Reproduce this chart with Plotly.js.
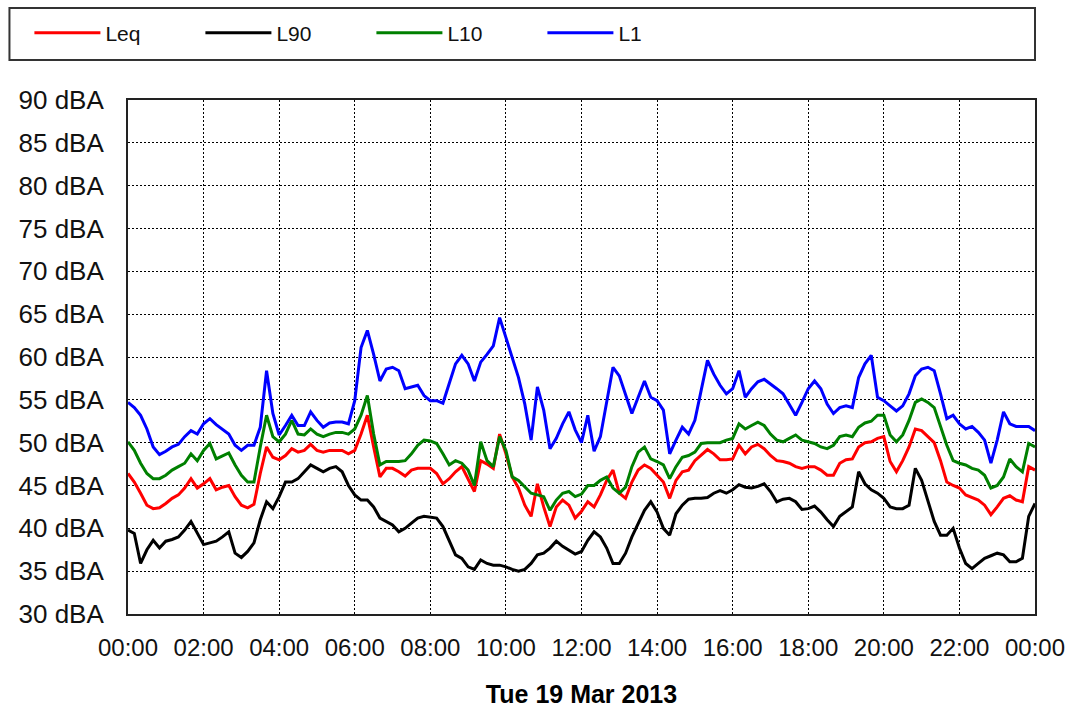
<!DOCTYPE html>
<html>
<head>
<meta charset="utf-8">
<script src="https://cdn.plot.ly/plotly-3.0.1.min.js"></script>
<style>html,body{margin:0;padding:0;background:#fff;}#chart{width:1075px;height:712px;}</style>
</head>
<body>
<div id="chart"></div>
<script>
// Sampling: 10-minute steps over Tue 19 Mar 2013 (00:00 to 24:00)
const day = '2013-03-19';
const stepMinutes = 10;

const seriesNames = ['Leq', 'L90', 'L10', 'L1'];
const seriesColors = ['#ff0000', '#000000', '#008000', '#0000ff'];

const Leq = [
  46.4, 45.4, 44.1, 42.7, 42.3, 42.4, 42.9, 43.5, 43.9, 44.7, 45.8, 44.7, 45.2, 45.8, 44.5, 44.8, 45.0, 43.7, 42.7, 42.4, 42.8, 46.4, 49.5, 48.3,
  48.0, 48.5, 49.3, 48.9, 49.1, 49.8, 49.1, 48.9, 49.1, 49.1, 49.1, 48.7, 49.1, 51.0, 53.2, 49.5, 46.0, 47.0, 47.0, 46.6, 46.1, 46.8, 47.0, 47.0,
  47.0, 46.4, 45.2, 45.8, 46.6, 47.2, 45.8, 44.3, 47.9, 47.5, 47.0, 51.0, 48.7, 46.0, 44.7, 42.7, 41.4, 45.2, 42.5, 40.2, 42.5, 43.3, 42.7, 41.2,
  42.0, 43.1, 42.5, 43.9, 45.6, 46.8, 44.1, 43.5, 45.4, 46.8, 47.4, 47.0, 46.2, 45.4, 43.5, 45.6, 46.6, 46.8, 47.9, 48.5, 49.2, 48.7, 48.0, 48.0,
  48.1, 49.7, 48.7, 49.5, 49.8, 49.3, 48.5, 47.9, 47.8, 47.6, 47.2, 47.0, 47.2, 47.2, 46.8, 46.2, 46.2, 47.6, 48.0, 48.1, 49.5, 50.0, 50.1, 50.5,
  50.7, 47.8, 46.6, 47.9, 49.5, 51.6, 51.4, 50.7, 50.0, 47.9, 45.4, 45.0, 44.7, 43.9, 43.6, 43.3, 42.7, 41.6, 42.5, 43.5, 43.8, 43.3, 43.1, 47.2, 46.8
];

const L90 = [
  39.8, 39.4, 35.9, 37.5, 38.6, 37.7, 38.5, 38.7, 39.0, 39.8, 40.8, 39.4, 38.1, 38.3, 38.5, 39.0, 39.6, 37.1, 36.6, 37.3, 38.3, 41.0, 43.1, 42.3,
  43.7, 45.4, 45.4, 45.8, 46.6, 47.4, 47.0, 46.6, 47.0, 47.2, 46.6, 45.0, 43.9, 43.3, 43.3, 42.5, 41.2, 40.8, 40.4, 39.6, 40.0, 40.6, 41.2, 41.4,
  41.3, 41.2, 40.2, 38.6, 36.9, 36.5, 35.5, 35.2, 36.3, 35.9, 35.7, 35.7, 35.5, 35.2, 35.0, 35.2, 35.9, 36.9, 37.1, 37.7, 38.5, 37.9, 37.5, 37.0,
  37.3, 38.6, 39.6, 39.0, 37.7, 35.9, 35.9, 37.1, 39.0, 40.6, 42.1, 43.1, 41.9, 40.0, 39.2, 41.7, 42.7, 43.4, 43.5, 43.5, 43.6, 44.1, 44.4, 44.1,
  44.5, 45.1, 44.8, 44.7, 44.9, 45.2, 44.3, 43.1, 43.4, 43.5, 43.1, 42.2, 42.3, 42.6, 41.9, 41.0, 40.2, 41.4, 41.9, 42.5, 46.6, 45.2, 44.5, 44.1,
  43.5, 42.5, 42.3, 42.3, 42.7, 47.0, 45.6, 43.3, 40.8, 39.2, 39.2, 40.0, 37.7, 35.9, 35.3, 35.9, 36.5, 36.8, 37.1, 36.9, 36.1, 36.1, 36.5, 41.4, 42.9
];

const L10 = [
  50.1, 49.1, 47.6, 46.4, 45.8, 45.8, 46.2, 46.8, 47.2, 47.6, 48.7, 47.9, 49.1, 49.9, 48.1, 48.5, 48.8, 47.4, 46.2, 45.4, 45.4, 49.5, 53.2, 50.7,
  50.1, 51.0, 52.6, 51.0, 50.9, 51.6, 51.0, 50.7, 51.0, 51.2, 51.2, 51.0, 51.6, 53.2, 55.5, 51.0, 47.4, 47.8, 47.8, 47.8, 47.9, 48.7, 49.7, 50.3,
  50.2, 49.9, 48.7, 47.4, 47.9, 47.6, 46.8, 45.0, 50.1, 47.9, 47.2, 50.7, 49.1, 46.0, 45.6, 44.8, 44.1, 43.9, 43.7, 42.1, 43.3, 44.1, 44.3, 43.7,
  44.0, 45.0, 45.0, 45.6, 46.0, 44.7, 44.1, 44.8, 47.2, 48.9, 49.5, 48.1, 47.8, 47.4, 45.8, 47.2, 48.3, 48.5, 48.9, 49.9, 50.0, 50.0, 50.0, 50.3,
  50.5, 52.2, 51.6, 52.0, 52.4, 52.0, 51.0, 50.3, 50.1, 50.5, 50.9, 50.3, 50.1, 49.9, 49.5, 49.3, 49.7, 50.7, 50.9, 50.7, 51.8, 52.3, 52.5, 53.2,
  53.2, 50.9, 50.1, 50.9, 52.6, 54.7, 55.1, 54.7, 54.1, 52.0, 49.7, 47.9, 47.6, 47.4, 47.0, 46.8, 46.2, 44.7, 45.0, 46.0, 48.1, 47.2, 46.6, 49.9, 49.5
];

const L1 = [
  54.7, 54.1, 53.2, 51.6, 49.5, 48.6, 49.0, 49.5, 49.8, 50.7, 51.4, 51.0, 52.2, 52.8, 52.1, 51.6, 51.0, 49.7, 49.1, 49.7, 49.7, 51.8, 58.4, 53.4,
  50.9, 52.0, 53.2, 52.0, 52.0, 53.6, 52.6, 51.8, 52.3, 52.4, 52.4, 52.2, 54.9, 61.1, 63.1, 60.3, 57.2, 58.6, 58.8, 58.4, 56.3, 56.5, 56.7, 55.5,
  54.9, 54.9, 54.6, 56.9, 59.2, 60.2, 59.2, 57.2, 59.4, 60.3, 61.3, 64.6, 62.3, 59.8, 57.6, 54.5, 50.3, 56.5, 53.8, 49.3, 50.5, 52.2, 53.6, 51.5,
  50.0, 53.2, 49.0, 50.7, 54.9, 58.8, 57.8, 55.7, 53.4, 55.3, 57.2, 55.3, 54.9, 53.8, 48.7, 50.3, 51.8, 51.0, 52.6, 56.1, 59.6, 58.0, 56.7, 55.7,
  56.3, 58.4, 55.3, 56.3, 57.1, 57.4, 56.9, 56.3, 55.7, 54.5, 53.2, 54.7, 56.3, 57.2, 56.3, 54.5, 53.4, 54.1, 54.3, 54.1, 57.6, 59.2, 60.2, 55.3,
  54.9, 54.3, 53.7, 54.3, 55.7, 57.8, 58.6, 58.8, 58.4, 55.7, 52.8, 53.2, 52.2, 51.6, 51.9, 51.2, 50.3, 47.6, 50.3, 53.6, 52.2, 51.9, 51.9, 51.9, 51.4
];

const xTitle = 'Tue 19 Mar 2013';
const yUnit = ' dBA';

function pad(n) { return (n < 10 ? '0' : '') + n; }
const times = [];
for (let i = 0; i < Leq.length; i++) {
  const m = i * stepMinutes;
  if (m >= 1440) { times.push('2013-03-20 00:00'); }
  else { times.push(day + ' ' + pad(Math.floor(m / 60)) + ':' + pad(m % 60)); }
}

const seriesValues = [Leq, L90, L10, L1];
const traces = seriesNames.map((name, k) => ({
  type: 'scatter',
  mode: 'lines',
  name: name,
  x: times,
  y: seriesValues[k],
  line: { color: seriesColors[k], width: 3 },
  hoverinfo: 'x+y+name'
}));

const font = 'Liberation Sans, Arial, sans-serif';

const layout = {
  width: 1075,
  height: 712,
  margin: { l: 128, r: 40, t: 100, b: 98 },
  paper_bgcolor: '#ffffff',
  plot_bgcolor: '#ffffff',
  font: { family: font, color: '#111111' },
  showlegend: true,
  legend: {
    orientation: 'h',
    x: -0.1087, xanchor: 'left',
    y: 1.130, yanchor: 'middle',
    font: { family: font, size: 21, color: '#111111' },
    entrywidth: 90, entrywidthmode: 'pixels',
    itemwidth: 66,
    bgcolor: 'rgba(0,0,0,0)',
    borderwidth: 0,
    traceorder: 'normal'
  },
  shapes: [{
    type: 'rect', xref: 'paper', yref: 'paper',
    x0: -0.1307, x1: 1.0, y0: 1.0778, y1: 1.179,
    line: { color: '#333333', width: 2 },
    fillcolor: 'rgba(0,0,0,0)', layer: 'above'
  }],
  xaxis: {
    type: 'date',
    range: ['2013-03-19 00:00', '2013-03-20 00:00'],
    tickmode: 'linear',
    tick0: '2013-03-19 00:00',
    dtick: 7200000,
    tickformat: '%H:%M',
    showgrid: true,
    gridcolor: '#000000',
    gridwidth: 1,
    griddash: '2px,2px',
    zeroline: false,
    showline: true,
    mirror: true,
    linecolor: '#222222',
    linewidth: 2,
    ticks: '',
    ticklabelstandoff: 11,
    tickfont: { family: font, size: 24, color: '#111111' },
    title: { text: '<b>' + xTitle + '</b>', font: { family: font, size: 25, color: '#000000' }, standoff: 26 },
    automargin: false
  },
  yaxis: {
    range: [30, 90],
    tickmode: 'linear',
    tick0: 30,
    dtick: 5,
    ticksuffix: yUnit,
    showgrid: true,
    gridcolor: '#000000',
    gridwidth: 1,
    griddash: '2px,2px',
    zeroline: false,
    showline: true,
    mirror: true,
    linecolor: '#222222',
    linewidth: 2,
    ticks: '',
    ticklabelstandoff: 17,
    tickfont: { family: font, size: 26, color: '#111111' },
    automargin: false
  }
};

Plotly.newPlot('chart', traces, layout, { displayModeBar: false, staticPlot: true });
</script>
</body>
</html>
